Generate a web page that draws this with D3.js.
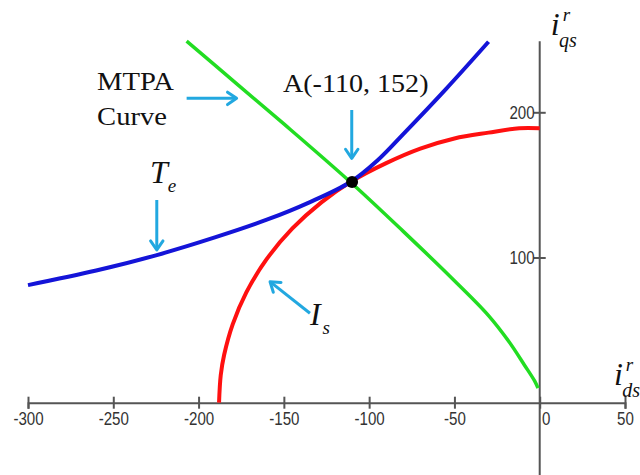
<!DOCTYPE html>
<html>
<head>
<meta charset="utf-8">
<script src="https://cdn.jsdelivr.net/npm/d3@7"></script>
<style>
  body { margin: 0; background: #fff; }
  svg { display: block; }
</style>
</head>
<body>
<div id="chart"></div>
<script>
// MTPA curve (green)
var mtpaId = [-207, -180, -150, -111, -80, -50, -30, -18, -9, -3, -1];
var mtpaIq = [249, 222, 192, 152, 118, 84, 60, 42, 26, 15, 10];

// constant torque curve Te (blue)
var teId = [-300, -260, -225, -190, -160, -135, -111, -95, -80, -55, -30];
var teIq = [81, 91, 101.5, 114, 126, 138, 152, 167, 185, 216, 248.6];

// current limit Is (red)
var isId = [-188, -187, -185, -180, -172, -160, -145, -128, -111, -90, -70, -50, -30, -12, 0];
var isIq = [0, 19, 33, 54, 76, 99, 120, 138, 152, 165, 175, 182, 186, 189, 189];

var xTicks = [-300, -250, -200, -150, -100, -50, 0, 50];
var yTicks = [100, 200];
var pointA = {id: -110, iq: 152};

var width = 640, height = 475;

var svg = d3.select("#chart").append("svg")
  .attr("width", width)
  .attr("height", height);

var x = d3.scaleLinear().domain([-300, 50]).range([28, 625]);
var y = d3.scaleLinear().domain([0, 200]).range([402.7, 112.3]);

var axisColor = "#555";
var tickFont = "'Liberation Sans', Arial, sans-serif";

// x axis
var gx = svg.append("g")
  .attr("transform", "translate(0," + y(0) + ")")
  .call(d3.axisBottom(x).tickValues(xTicks).tickSizeOuter(0).tickSize(6).tickPadding(4)
    .tickFormat(function(d) { return String(d); }));
gx.select(".domain").attr("stroke", axisColor).attr("stroke-width", 2);
gx.selectAll(".tick line").attr("y1", -6).attr("y2", 6).attr("stroke", axisColor).attr("stroke-width", 2);
gx.selectAll(".tick text")
  .style("font-family", tickFont).style("font-size", "18px").attr("fill", "#333")
  .attr("transform", function(d) { return "translate(" + (d === 0 ? 6 : 0) + ",0) scale(0.84,1)"; });

// y axis line runs past the x axis to the bottom edge
svg.append("line")
  .attr("x1", x(0)).attr("x2", x(0))
  .attr("y1", y(249)).attr("y2", height)
  .attr("stroke", axisColor).attr("stroke-width", 2);

var gy = svg.append("g")
  .attr("transform", "translate(" + x(0) + ",0)")
  .call(d3.axisLeft(y).tickValues(yTicks).tickSize(6).tickPadding(0));
gy.select(".domain").remove();
gy.selectAll(".tick line").attr("x1", -6).attr("x2", 6).attr("stroke", axisColor).attr("stroke-width", 2);
gy.selectAll(".tick text")
  .style("font-family", tickFont).style("font-size", "18px").attr("fill", "#333")
  .attr("transform", "scale(0.84,1)");

// curves
function zipPts(a, b) { return a.map(function(v, i) { return [v, b[i]]; }); }
var line = d3.line()
  .x(function(d) { return x(d[0]); })
  .y(function(d) { return y(d[1]); })
  .curve(d3.curveCatmullRom);

svg.append("path").datum(zipPts(mtpaId, mtpaIq))
  .attr("d", line).attr("fill", "none").attr("stroke", "#22dd22").attr("stroke-width", 3.5);
svg.append("path").datum(zipPts(isId, isIq))
  .attr("d", line).attr("fill", "none").attr("stroke", "#ff1010").attr("stroke-width", 4);
svg.append("path").datum(zipPts(teId, teIq))
  .attr("d", line).attr("fill", "none").attr("stroke", "#1414d8").attr("stroke-width", 4);

// operating point A
svg.append("circle")
  .attr("cx", x(pointA.id)).attr("cy", y(pointA.iq)).attr("r", 6)
  .attr("fill", "#000");

// annotation arrows (data coordinates: from -> to)
var arrows = [
  [[-207, 209.6], [-177.7, 209.6]],
  [[-110.2, 201.6], [-110.2, 168.3]],
  [[-224.5, 139.6], [-224.5, 105.2]],
  [[-134.7, 61.6], [-158.1, 83.3]]
];
var arrowColor = "#22a8e0";
arrows.forEach(function(a) {
  var x1 = x(a[0][0]), y1 = y(a[0][1]), x2 = x(a[1][0]), y2 = y(a[1][1]);
  var ang = Math.atan2(y2 - y1, x2 - x1), h = 11, spread = 0.6;
  svg.append("line")
    .attr("x1", x1).attr("y1", y1).attr("x2", x2 - 1.5 * Math.cos(ang)).attr("y2", y2 - 1.5 * Math.sin(ang))
    .attr("stroke", arrowColor).attr("stroke-width", 3);
  svg.append("path")
    .attr("d", "M" + (x2 - h * Math.cos(ang - spread)) + "," + (y2 - h * Math.sin(ang - spread)) +
      "L" + x2 + "," + y2 +
      "L" + (x2 - h * Math.cos(ang + spread)) + "," + (y2 - h * Math.sin(ang + spread)))
    .attr("fill", "none").attr("stroke", arrowColor).attr("stroke-width", 3)
    .attr("stroke-linecap", "round").attr("stroke-linejoin", "round");
});

// labels
var serif = "'Liberation Serif', 'Times New Roman', serif";
function label(txt, xv, yv, size, italic, sx) {
  var px = x(xv), py = y(yv);
  return svg.append("text")
    .attr("transform", "translate(" + px + "," + py + ") scale(" + (sx || 1) + ",1)")
    .style("font-family", serif).style("font-size", size + "px")
    .style("font-style", italic ? "italic" : "normal")
    .attr("fill", "#111")
    .text(txt);
}
label("MTPA", -259.5, 215.4, 26, false, 1.1);
label("Curve", -259.5, 191.3, 26, false, 1.1);
label("A(-110, 152)", -150.5, 214, 26, false, 1.08);

var te = label("T", -228.5, 151.3, 32, true);
te.append("tspan").attr("dy", 9).style("font-size", "19px").text("e");
var is = label("I", -134.7, 53.5, 32, true);
is.append("tspan").attr("dx", 2).attr("dy", 9).style("font-size", "19px").text("s");

// axis titles
var iq = label("i", 6.5, 253, 32, true);
iq.append("tspan").attr("dx", 3).attr("dy", -14).style("font-size", "19px").text("r");
iq.append("tspan").attr("dx", -11).attr("dy", 26).style("font-size", "20px").text("qs");

var idl = label("i", 43.5, 12, 32, true);
idl.append("tspan").attr("dx", 3).attr("dy", -14).style("font-size", "19px").text("r");
idl.append("tspan").attr("dx", -11).attr("dy", 26).style("font-size", "20px").text("ds");
</script>
</body>
</html>
